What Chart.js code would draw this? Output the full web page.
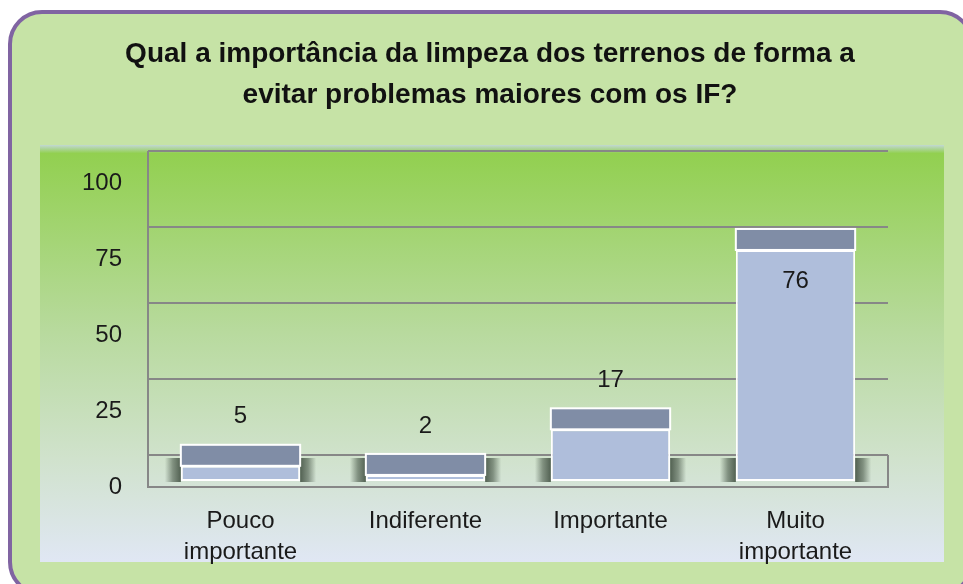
<!DOCTYPE html>
<html lang="pt">
<head>
<meta charset="utf-8">
<title>Importância da limpeza dos terrenos</title>
<script src="https://cdn.jsdelivr.net/npm/chart.js@4.4.1/dist/chart.umd.min.js"></script>
<style>
    html, body { margin: 0; padding: 0; background: #ffffff; }
    #chart { display: block; }
</style>
</head>
<body>
<canvas id="chart" width="963" height="584"></canvas>
<script>
// --- DATA ---
const categories = [['Pouco', 'importante'], 'Indiferente', 'Importante', ['Muito', 'importante']];
const values = [5, 2, 17, 76];
const yTicks = [0, 25, 50, 75, 100];
const titleLines = ['Qual a importância da limpeza dos terrenos de forma a', 'evitar problemas maiores com os IF?'];

// --- LOOK ---
const FONT = "'Liberation Sans', Arial, sans-serif";
const WALL_DEPTH = 26;   // back wall offset above the bar baseline
const FRONT_DROP = 6;    // front edge of floor below the bar baseline
const BAR_DEPTH = 21;    // height of the bar top face
const GRID = '#878787';

// background: rounded frame + gradient plot panel + title
const backdrop = {
    id: 'backdrop',
    beforeDraw(chart) {
        const ctx = chart.ctx;
        ctx.save();
        ctx.fillStyle = '#ffffff';
        ctx.fillRect(0, 0, chart.width, chart.height);

        ctx.beginPath();
        ctx.roundRect(10, 12, 962, 582, 32);
        ctx.fillStyle = '#C6E3A6';
        ctx.fill();
        ctx.lineWidth = 4;
        ctx.strokeStyle = '#8064A2';
        ctx.stroke();

        const g = ctx.createLinearGradient(0, 145, 0, 562);
        g.addColorStop(0, '#C2D8D2');
        g.addColorStop(0.02, '#92D050');
        g.addColorStop(0.45, '#B8DA9E');
        g.addColorStop(0.75, '#D0E2CC');
        g.addColorStop(1, '#E0E7F4');
        ctx.fillStyle = g;
        ctx.fillRect(40, 145, 904, 417);

        // title (centred a little right of the canvas, as in the original)
        ctx.fillStyle = '#111111';
        ctx.font = `bold 28px ${FONT}`;
        ctx.textAlign = 'center';
        ctx.textBaseline = 'middle';
        titleLines.forEach((line, i) => ctx.fillText(line, 490, 54 + i * 41));
        ctx.restore();
    }
};

// back wall grid, left wall and floor, plus bar shadows
const walls = {
    id: 'walls',
    beforeDatasetsDraw(chart) {
        const { ctx, chartArea } = chart;
        const y = chart.scales.y;
        const left = chartArea.left, right = chartArea.right;
        const base = y.getPixelForValue(0);
        ctx.save();
        ctx.strokeStyle = GRID;
        ctx.lineWidth = 2;
        ctx.beginPath();
        yTicks.forEach(v => {
            const py = Math.round(y.getPixelForValue(v) - WALL_DEPTH);
            ctx.moveTo(left, py);
            ctx.lineTo(right, py);
        });
        ctx.moveTo(left, y.getPixelForValue(100) - WALL_DEPTH);
        ctx.lineTo(left, base + FRONT_DROP);
        ctx.lineTo(right, base + FRONT_DROP);
        ctx.lineTo(right, base - WALL_DEPTH);
        ctx.stroke();

        // soft shadows at the foot of each bar
        chart.getDatasetMeta(0).data.forEach(bar => {
            const half = bar.width / 2;
            const top = base - WALL_DEPTH + 3;
            [[bar.x - half - 16, bar.x - half], [bar.x + half + 16, bar.x + half]].forEach(([outer, inner]) => {
                const sg = ctx.createLinearGradient(outer, 0, inner, 0);
                sg.addColorStop(0, 'rgba(75,90,75,0)');
                sg.addColorStop(0.5, 'rgba(75,90,75,0.6)');
                sg.addColorStop(1, 'rgba(75,90,75,0.95)');
                ctx.fillStyle = sg;
                ctx.fillRect(Math.min(outer, inner), top, 16, base - top + 1);
            });
        });
        ctx.restore();
    }
};

// bar top faces and value labels
const barTops = {
    id: 'barTops',
    afterDatasetsDraw(chart) {
        const { ctx, chartArea } = chart;
        ctx.save();
        chart.getDatasetMeta(0).data.forEach((bar, i) => {
            const half = bar.width / 2;
            ctx.fillStyle = '#808DA6';
            ctx.fillRect(bar.x - half, bar.y - BAR_DEPTH, bar.width, BAR_DEPTH);
            ctx.strokeStyle = '#ffffff';
            ctx.lineWidth = 2;
            ctx.strokeRect(bar.x - half, bar.y - BAR_DEPTH, bar.width, BAR_DEPTH);

            const outside = bar.y - BAR_DEPTH - 60 > chartArea.top;
            const ly = outside ? bar.y - BAR_DEPTH - 28 : bar.y + 31;
            ctx.fillStyle = '#1a1a1a';
            ctx.font = `24px ${FONT}`;
            ctx.textAlign = 'center';
            ctx.textBaseline = 'middle';
            ctx.fillText(String(values[i]), bar.x, ly);
        });
        ctx.restore();
    }
};

// --- CHART ---
new Chart(document.getElementById('chart'), {
    type: 'bar',
    data: {
        labels: categories,
        datasets: [{
            data: values,
            backgroundColor: '#AFBEDB',
            borderColor: '#ffffff',
            borderWidth: 2,
            borderSkipped: false,
            categoryPercentage: 1,
            barPercentage: 0.645,
        }],
    },
    options: {
        responsive: false,
        animation: false,
        layout: { padding: { left: 0, right: 75, top: 177, bottom: 0 } },
        plugins: {
            legend: { display: false },
            tooltip: { enabled: false },
            title: { display: false },
        },
        scales: {
            x: {
                grid: { display: false, drawTicks: false },
                border: { display: false },
                ticks: { color: '#1a1a1a', padding: 24.5, font: { family: FONT, size: 24, lineHeight: 31 / 24 } },
                afterFit(scale) { scale.height = 103; },
            },
            y: {
                min: 0,
                max: 100,
                afterBuildTicks(scale) { scale.ticks = yTicks.map(v => ({ value: v })); },
                grid: { display: false, drawTicks: false },
                border: { display: false },
                ticks: { color: '#1a1a1a', padding: 26, labelOffset: FRONT_DROP, font: { family: FONT, size: 24 } },
                afterFit(scale) { scale.width = 148; },
            },
        },
    },
    plugins: [backdrop, walls, barTops],
});
</script>
</body>
</html>
